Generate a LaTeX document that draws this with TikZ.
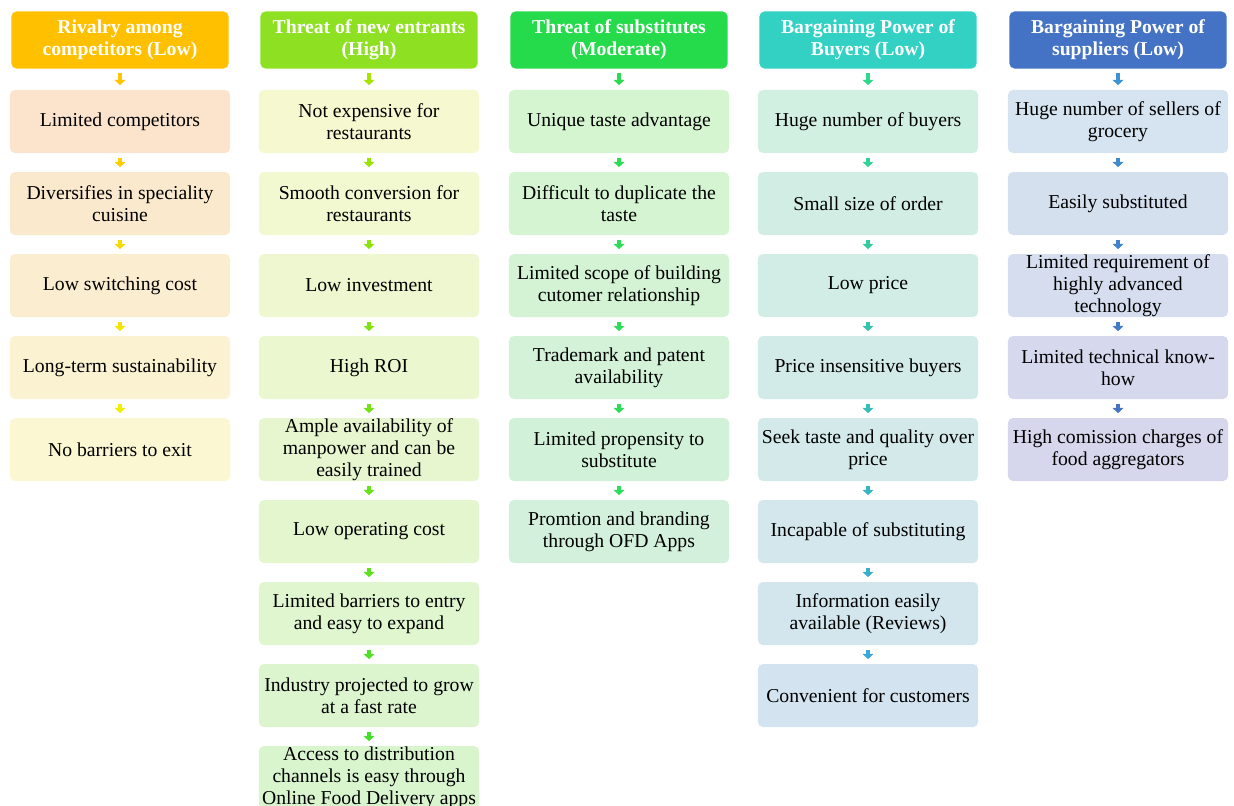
\documentclass[tikz,border=0pt]{standalone}
\usepackage{fontspec}
\setmainfont{Liberation Serif}
\usepackage{tikz}
\usetikzlibrary{positioning}
\usetikzlibrary{arrows.meta}

\definecolor{hdrA}{HTML}{FFC000}
\definecolor{hdrB}{HTML}{8EE022}
\definecolor{hdrC}{HTML}{26DB4B}
\definecolor{hdrD}{HTML}{33D1C4}
\definecolor{hdrE}{HTML}{4472C4}
\definecolor{boxAs}{HTML}{FCE4CC}
\definecolor{boxAe}{HTML}{FAF7D2}
\definecolor{boxBs}{HTML}{F6F8CF}
\definecolor{boxBe}{HTML}{D8F5CE}
\definecolor{boxCs}{HTML}{D4F5CF}
\definecolor{boxCe}{HTML}{D2F0DC}
\definecolor{boxDs}{HTML}{D2F0E2}
\definecolor{boxDe}{HTML}{D3E4F0}
\definecolor{boxEs}{HTML}{D5E4F0}
\definecolor{boxEe}{HTML}{D6D6EC}
\definecolor{arAs}{HTML}{FFC400}
\definecolor{arAe}{HTML}{EEF000}
\definecolor{arBs}{HTML}{A4E400}
\definecolor{arBe}{HTML}{44E028}
\definecolor{arCs}{HTML}{2CDC50}
\definecolor{arCe}{HTML}{30DC5C}
\definecolor{arDs}{HTML}{30D88C}
\definecolor{arDe}{HTML}{3AA8D8}
\definecolor{arEs}{HTML}{3C92D2}
\definecolor{arEe}{HTML}{4472C4}

\tikzset{
hdr/.style={fill=#1, rounded corners=3.5pt, minimum width=5.425cm, minimum height=1.425cm,
  align=center, text=white, inner sep=0pt, font=\bfseries\fontsize{14}{15.6}\selectfont},
box/.style={fill=#1, rounded corners=3.5pt, minimum width=5.5cm, minimum height=1.575cm,
  align=center, inner sep=0pt, font=\fontsize{14}{15.6}\selectfont},
flow/.style={draw=#1, line width=3pt, -{Triangle[width=7.5pt,length=3.8pt]},
  shorten >=3.2pt, shorten <=3.2pt}
}

\begin{document}
\begin{tikzpicture}[x=0.025cm,y=-0.025cm]
\useasboundingbox (0,0) rectangle (1234,805);
\clip (0,0) rectangle (1234,805);

% rivalry
\node[hdr=hdrA](hA) at (120,40){Rivalry among\\competitors (Low)};
\node[box=boxAs](a1) at (120,121.5){Limited competitors};
\node[box=boxAe!25!boxAs](a2) at (120,203.5){Diversifies in speciality\\cuisine};
\node[box=boxAe!50!boxAs](a3) at (120,285.5){Low switching cost};
\node[box=boxAe!75!boxAs](a4) at (120,367.5){Long-term sustainability};
\node[box=boxAe](a5) at (120,449.5){No barriers to exit};

% new entrants
\node[hdr=hdrB](hB) at (369,40){Threat of new entrants\\(High)};
\node[box=boxBs](b1) at (369,121.5){Not expensive for\\restaurants};
\node[box=boxBe!12!boxBs](b2) at (369,203.5){Smooth conversion for\\restaurants};
\node[box=boxBe!25!boxBs](b3) at (369,285.5){Low investment};
\node[box=boxBe!38!boxBs](b4) at (369,367.5){High ROI};
\node[box=boxBe!50!boxBs](b5) at (369,449.5){Ample availability of\\manpower and can be\\easily trained};
\node[box=boxBe!62!boxBs](b6) at (369,531.5){Low operating cost};
\node[box=boxBe!75!boxBs](b7) at (369,613.5){Limited barriers to entry\\and easy to expand};
\node[box=boxBe!88!boxBs](b8) at (369,695.5){Industry projected to grow\\at a fast rate};
\node[box=boxBe](b9) at (369,777.5){Access to distribution\\channels is easy through\\Online Food Delivery apps};

% substitutes
\node[hdr=hdrC](hC) at (619,40){Threat of substitutes\\(Moderate)};
\node[box=boxCs](c1) at (619,121.5){Unique taste advantage};
\node[box=boxCe!20!boxCs](c2) at (619,203.5){Difficult to duplicate the\\taste};
\node[box=boxCe!40!boxCs](c3) at (619,285.5){Limited scope of building\\cutomer relationship};
\node[box=boxCe!60!boxCs](c4) at (619,367.5){Trademark and patent\\availability};
\node[box=boxCe!80!boxCs](c5) at (619,449.5){Limited propensity to\\substitute};
\node[box=boxCe](c6) at (619,531.5){Promtion and branding\\through OFD Apps};

% buyers
\node[hdr=hdrD](hD) at (868,40){Bargaining Power of\\Buyers (Low)};
\node[box=boxDs](d1) at (868,121.5){Huge number of buyers};
\node[box=boxDe!14!boxDs](d2) at (868,203.5){Small size of order};
\node[box=boxDe!29!boxDs](d3) at (868,285.5){Low price};
\node[box=boxDe!43!boxDs](d4) at (868,367.5){Price insensitive buyers};
\node[box=boxDe!57!boxDs](d5) at (868,449.5){Seek taste and quality over\\price};
\node[box=boxDe!71!boxDs](d6) at (868,531.5){Incapable of substituting};
\node[box=boxDe!86!boxDs](d7) at (868,613.5){Information easily\\available (Reviews)};
\node[box=boxDe](d8) at (868,695.5){Convenient for customers};

% suppliers
\node[hdr=hdrE](hE) at (1118,40){Bargaining Power of\\suppliers (Low)};
\node[box=boxEs](e1) at (1118,121.5){Huge number of sellers of\\grocery};
\node[box=boxEe!25!boxEs](e2) at (1118,203.5){Easily substituted};
\node[box=boxEe!50!boxEs](e3) at (1118,285.5){Limited requirement of\\highly advanced\\technology};
\node[box=boxEe!75!boxEs](e4) at (1118,367.5){Limited technical know-\\how};
\node[box=boxEe](e5) at (1118,449.5){High comission charges of\\food aggregators};

\path
(hA) edge[flow=arAs] (a1)
(a1) edge[flow=arAe!25!arAs] (a2)
(a2) edge[flow=arAe!50!arAs] (a3)
(a3) edge[flow=arAe!75!arAs] (a4)
(a4) edge[flow=arAe] (a5);

\path
(hB) edge[flow=arBs] (b1)
(b1) edge[flow=arBe!12!arBs] (b2)
(b2) edge[flow=arBe!25!arBs] (b3)
(b3) edge[flow=arBe!38!arBs] (b4)
(b4) edge[flow=arBe!50!arBs] (b5)
(b5) edge[flow=arBe!62!arBs] (b6)
(b6) edge[flow=arBe!75!arBs] (b7)
(b7) edge[flow=arBe!88!arBs] (b8)
(b8) edge[flow=arBe] (b9);

\path
(hC) edge[flow=arCs] (c1)
(c1) edge[flow=arCe!20!arCs] (c2)
(c2) edge[flow=arCe!40!arCs] (c3)
(c3) edge[flow=arCe!60!arCs] (c4)
(c4) edge[flow=arCe!80!arCs] (c5)
(c5) edge[flow=arCe] (c6);

\path
(hD) edge[flow=arDs] (d1)
(d1) edge[flow=arDe!14!arDs] (d2)
(d2) edge[flow=arDe!29!arDs] (d3)
(d3) edge[flow=arDe!43!arDs] (d4)
(d4) edge[flow=arDe!57!arDs] (d5)
(d5) edge[flow=arDe!71!arDs] (d6)
(d6) edge[flow=arDe!86!arDs] (d7)
(d7) edge[flow=arDe] (d8);

\path
(hE) edge[flow=arEs] (e1)
(e1) edge[flow=arEe!25!arEs] (e2)
(e2) edge[flow=arEe!50!arEs] (e3)
(e3) edge[flow=arEe!75!arEs] (e4)
(e4) edge[flow=arEe] (e5);
\end{tikzpicture}
\end{document}
